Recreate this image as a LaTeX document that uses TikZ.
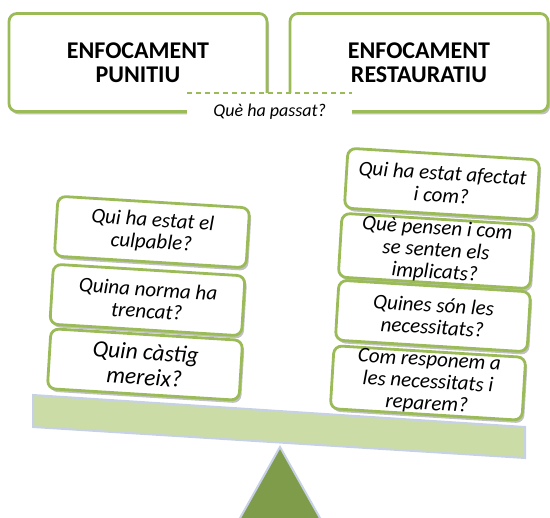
\documentclass[tikz,border=0pt]{standalone}
\usepackage{fontspec}
\setmainfont{Carlito}
\usetikzlibrary{shadows}
\definecolor{boxgreen}{HTML}{9BBB59}
\definecolor{beamgreen}{HTML}{CBDCA6}
\definecolor{pivotgreen}{HTML}{7F9C4B}
\definecolor{edgeblue}{HTML}{C7D1E6}
\begin{document}
\begin{tikzpicture}[x=1pt,y=-1pt,
    shade/.style={drop shadow={shadow xshift=2pt,shadow yshift=-3pt,opacity=.35,fill=black!70}},
    headbox/.style={draw=boxgreen,line width=2.8pt,rounded corners=8pt,fill=white,shade,
      minimum width=258pt,minimum height=98pt,align=center,
      font=\fontsize{24}{24.5}\selectfont\bfseries},
    qbox/.style={draw=boxgreen,line width=2.8pt,rounded corners=8pt,fill=white,shade,
      minimum width=192pt,minimum height=60pt,inner sep=1pt,align=center,rotate=-3.5,
      font=\fontsize{21}{22}\selectfont\itshape}]
    \useasboundingbox (0,0) rectangle (550,518);
    \node[headbox] (punitiu) at (138,62.5) {ENFOCAMENT\\PUNITIU};
    \node[headbox] (restauratiu) at (419,62.5) {ENFOCAMENT\\RESTAURATIU};
    \node[fill=white,minimum width=165pt,minimum height=38pt,inner sep=0pt,anchor=north west,
      font=\fontsize{18}{18}\selectfont\itshape] (passat) at (187,93) {Què ha passat?};
    \draw[boxgreen,line width=2pt,dash pattern=on 5pt off 4pt] (passat.north west) -- (passat.north east);
    \draw[fill=beamgreen,draw=edgeblue,line width=2pt] (33,395) -- (525,427) -- (525,458) -- (33,427) -- cycle;
    \draw[fill=pivotgreen,draw=edgeblue,line width=2pt] (280,447) -- (325,527) -- (235,527) -- cycle;
    \node[qbox] (culpable) at (152,232) {Qui ha estat el\\culpable?};
    \node[qbox] (norma) at (147.5,300) {Quina norma ha\\trencat?};
    \node[qbox,font=\fontsize{23.5}{25}\selectfont\itshape] (castig) at (145,364.5) {Quin càstig\\mereix?};
    \node[qbox] (afectat) at (442,184) {Qui ha estat afectat\\i com?};
    \node[qbox] (pensen) at (436,251) {Què pensen i com\\se senten els\\implicats?};
    \node[qbox] (necessitats) at (433,316) {Quines són les\\necessitats?};
    \node[qbox] (reparem) at (428,383) {Com responem a\\les necessitats i\\reparem?};
  \end{tikzpicture}
\end{document}
